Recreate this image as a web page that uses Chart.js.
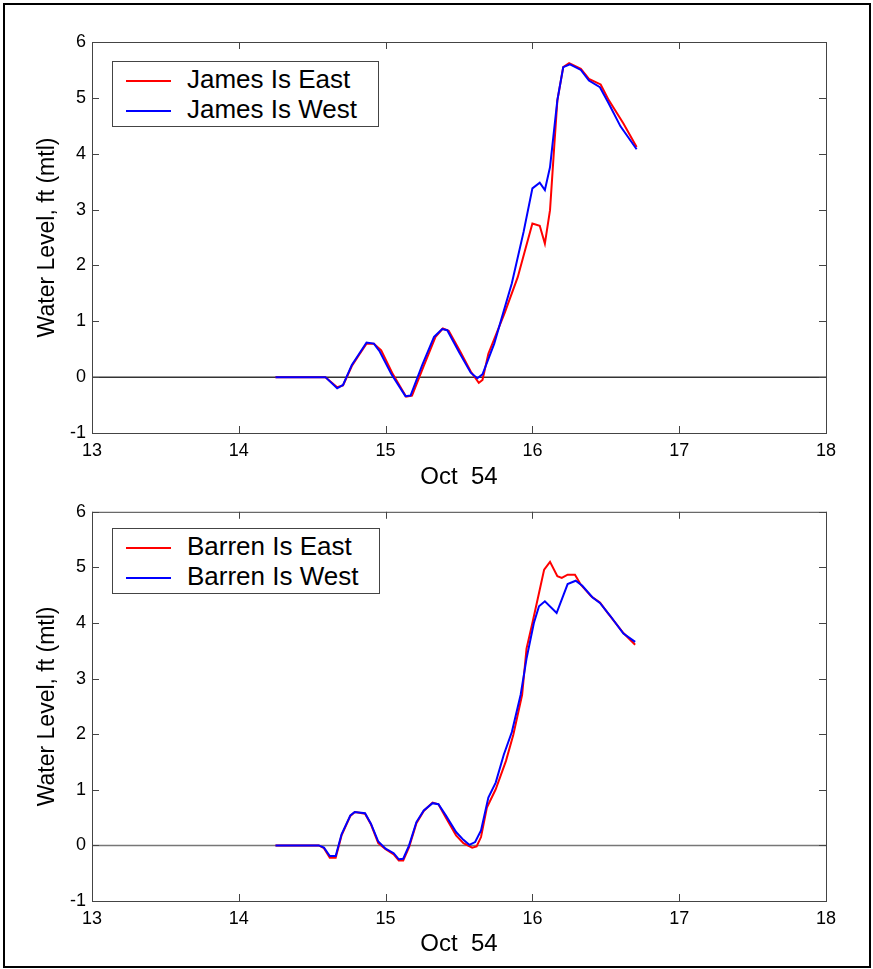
<!DOCTYPE html>
<html>
<head>
<meta charset="utf-8">
<script src="https://cdn.jsdelivr.net/npm/chart.js@4.4.1/dist/chart.umd.min.js"></script>
<style>
  html, body { margin: 0; padding: 0; background: #fff; }
  #page { position: relative; width: 873px; height: 969px; overflow: hidden; }
  #frame { position: absolute; left: 3px; top: 3px; width: 864px; height: 961px; border: 2px solid #000; }
  .plot { position: absolute; left: 0; width: 873px; }
  .legend {
    position: absolute; left: 112px; background: #fff; border: 1px solid #444;
    padding: 2px 21px 2px 0; font-family: 'Liberation Sans', Arial, sans-serif; font-size: 26px; color: #000;
  }
  .legend div { height: 30px; line-height: 30px; white-space: nowrap; }
  .legend span.swatch { display: inline-block; width: 45px; height: 2px; margin: 0 16px 0 13px; vertical-align: middle; }
</style>
</head>
<body>
<div id="page">
  <div id="frame"></div>
  <div class="plot" style="top:0;height:495px"><canvas id="james-chart"></canvas></div>
  <div class="plot" style="top:495px;height:474px"><canvas id="barren-chart"></canvas></div>
  <div class="legend" id="james-legend" style="top:61px"></div>
  <div class="legend" id="barren-legend" style="top:528px"></div>
</div>
<script>
// days of October 1954 and water level (ft, mtl)
const jamesEastDay = [14.25, 14.59, 14.67, 14.71, 14.77, 14.82, 14.87, 14.92, 14.97, 15.05, 15.14, 15.18, 15.26, 15.34, 15.39, 15.43, 15.51, 15.58, 15.635, 15.66, 15.70, 15.81, 15.90, 15.95, 16.0, 16.05, 16.085, 16.12, 16.15, 16.17, 16.21, 16.25, 16.33, 16.385, 16.465, 16.52, 16.62, 16.71];
const jamesEastLevel = [0, 0, -0.18, -0.15, 0.2, 0.4, 0.6, 0.6, 0.48, 0.05, -0.35, -0.33, 0.2, 0.72, 0.87, 0.83, 0.45, 0.1, -0.1, -0.05, 0.42, 1.14, 1.79, 2.27, 2.75, 2.71, 2.39, 2.99, 4.18, 4.95, 5.55, 5.62, 5.52, 5.34, 5.24, 4.96, 4.54, 4.12];

const jamesWestDay = [14.25, 14.59, 14.67, 14.71, 14.77, 14.82, 14.87, 14.92, 14.96, 15.04, 15.135, 15.17, 15.25, 15.33, 15.385, 15.42, 15.5, 15.58, 15.625, 15.66, 15.74, 15.86, 15.94, 16.0, 16.05, 16.085, 16.12, 16.17, 16.21, 16.256, 16.33, 16.385, 16.46, 16.52, 16.6, 16.71];
const jamesWestLevel = [0, 0, -0.2, -0.14, 0.22, 0.42, 0.62, 0.6, 0.46, 0.05, -0.34, -0.33, 0.22, 0.72, 0.86, 0.84, 0.45, 0.08, -0.02, 0.05, 0.6, 1.68, 2.6, 3.38, 3.48, 3.35, 3.76, 4.96, 5.55, 5.6, 5.5, 5.31, 5.19, 4.9, 4.49, 4.08];

const barrenEastDay = [14.25, 14.545, 14.58, 14.62, 14.66, 14.70, 14.76, 14.79, 14.86, 14.9, 14.95, 15.0, 15.055, 15.09, 15.12, 15.16, 15.21, 15.26, 15.32, 15.36, 15.41, 15.48, 15.53, 15.59, 15.62, 15.65, 15.69, 15.75, 15.82, 15.87, 15.93, 15.96, 16.0, 16.045, 16.08, 16.12, 16.17, 16.20, 16.24, 16.29, 16.33, 16.40, 16.46, 16.51, 16.62, 16.70];
const barrenEastLevel = [0, 0, -0.05, -0.22, -0.22, 0.18, 0.53, 0.6, 0.57, 0.38, 0.04, -0.07, -0.16, -0.27, -0.27, -0.03, 0.4, 0.62, 0.77, 0.74, 0.5, 0.18, 0.04, -0.04, -0.02, 0.15, 0.68, 1.01, 1.52, 1.99, 2.71, 3.54, 4.0, 4.54, 4.96, 5.1, 4.84, 4.81, 4.87, 4.87, 4.69, 4.48, 4.37, 4.19, 3.82, 3.61];

const barrenWestDay = [14.25, 14.545, 14.58, 14.62, 14.66, 14.70, 14.76, 14.79, 14.86, 14.9, 14.95, 15.0, 15.055, 15.09, 15.12, 15.16, 15.21, 15.26, 15.32, 15.36, 15.41, 15.48, 15.53, 15.57, 15.61, 15.65, 15.70, 15.75, 15.805, 15.86, 15.92, 15.96, 16.01, 16.045, 16.085, 16.165, 16.24, 16.295, 16.34, 16.41, 16.46, 16.53, 16.62, 16.70];
const barrenWestLevel = [0, 0, -0.04, -0.19, -0.19, 0.2, 0.54, 0.6, 0.58, 0.39, 0.07, -0.06, -0.14, -0.25, -0.24, 0, 0.42, 0.63, 0.76, 0.74, 0.54, 0.24, 0.1, 0.01, 0.06, 0.27, 0.86, 1.13, 1.63, 2.04, 2.71, 3.36, 4.0, 4.3, 4.39, 4.18, 4.7, 4.76, 4.67, 4.46, 4.36, 4.13, 3.81, 3.66];

const zeroDay = [13, 18];
const zeroLevel = [0, 0];

const xTicks = [13, 14, 15, 16, 17, 18];
const yTicks = [-1, 0, 1, 2, 3, 4, 5, 6];

const toPoints = (days, levels) => days.map((d, i) => ({x: d, y: levels[i]}));

// MATLAB style box with inward ticks on all four sides
const boxPlugin = {
  id: 'box',
  afterDatasetsDraw(chart) {
    const {ctx, chartArea: a, scales} = chart;
    ctx.save();
    ctx.strokeStyle = '#444';
    ctx.lineWidth = 1;
    ctx.strokeRect(a.left + 0.5, a.top + 0.5, a.right - a.left, a.bottom - a.top);
    ctx.beginPath();
    xTicks.forEach(t => {
      const px = Math.round(scales.x.getPixelForValue(t)) + 0.5;
      ctx.moveTo(px, a.bottom); ctx.lineTo(px, a.bottom - 7);
      ctx.moveTo(px, a.top); ctx.lineTo(px, a.top + 7);
    });
    yTicks.forEach(t => {
      const py = Math.round(scales.y.getPixelForValue(t)) + 0.5;
      ctx.moveTo(a.left, py); ctx.lineTo(a.left + 7, py);
      ctx.moveTo(a.right, py); ctx.lineTo(a.right - 7, py);
    });
    ctx.stroke();
    ctx.restore();
  }
};

const font = 'Liberation Sans';

function makeConfig(eastLabel, east, westLabel, west, zeroColor, top, xHeight, titlePad) {
  return {
    type: 'line',
    data: {
      datasets: [
        {label: westLabel, data: west, borderColor: '#0000ff', order: 0},
        {label: eastLabel, data: east, borderColor: '#ff0000', order: 1},
        {label: 'zero', data: toPoints(zeroDay, zeroLevel), borderColor: zeroColor, borderWidth: 1.5, order: 2},
      ]
    },
    options: {
      responsive: true,
      maintainAspectRatio: false,
      animation: false,
      elements: {
        point: {radius: 0},
        line: {borderWidth: 2, tension: 0, fill: false},
      },
      layout: {padding: {left: 30, right: 47, top: top, bottom: 0}},
      scales: {
        x: {
          type: 'linear',
          min: 13,
          max: 18,
          afterBuildTicks: s => { s.ticks = xTicks.map(v => ({value: v})); },
          afterFit: s => { s.height = xHeight; },
          grid: {display: false, drawTicks: false},
          border: {display: false},
          ticks: {padding: 7, color: '#000', font: {family: font, size: 18}, maxRotation: 0},
          title: {display: true, text: 'Oct  54', color: '#000', font: {family: font, size: 24}, padding: {bottom: titlePad}},
        },
        y: {
          type: 'linear',
          min: -1,
          max: 6,
          afterBuildTicks: s => { s.ticks = yTicks.map(v => ({value: v})); },
          afterFit: s => { s.width = 62; },
          grid: {display: false, drawTicks: false},
          border: {display: false},
          ticks: {padding: 6, color: '#000', font: {family: font, size: 18}},
          title: {display: true, text: 'Water Level, ft (mtl)', color: '#000', font: {family: font, size: 23}, padding: {top: 4}},
        }
      },
      plugins: {
        legend: {display: false},
        tooltip: {enabled: false},
      }
    },
    plugins: [boxPlugin]
  };
}

function buildLegend(el, chart) {
  chart.data.datasets
    .filter(ds => ds.label !== 'zero')
    .sort((a, b) => b.order - a.order)
    .forEach(ds => {
      const row = document.createElement('div');
      const sw = document.createElement('span');
      sw.className = 'swatch';
      sw.style.background = ds.borderColor;
      row.appendChild(sw);
      row.appendChild(document.createTextNode(ds.label));
      el.appendChild(row);
    });
}

const jamesChart = new Chart(document.getElementById('james-chart'),
  makeConfig('James Is East', toPoints(jamesEastDay, jamesEastLevel),
             'James Is West', toPoints(jamesWestDay, jamesWestLevel), '#333', 42, 62, 3));
const barrenChart = new Chart(document.getElementById('barren-chart'),
  makeConfig('Barren Is East', toPoints(barrenEastDay, barrenEastLevel),
             'Barren Is West', toPoints(barrenWestDay, barrenWestLevel), '#777', 14, 68, 10));

buildLegend(document.getElementById('james-legend'), jamesChart);
buildLegend(document.getElementById('barren-legend'), barrenChart);
</script>
</body>
</html>
